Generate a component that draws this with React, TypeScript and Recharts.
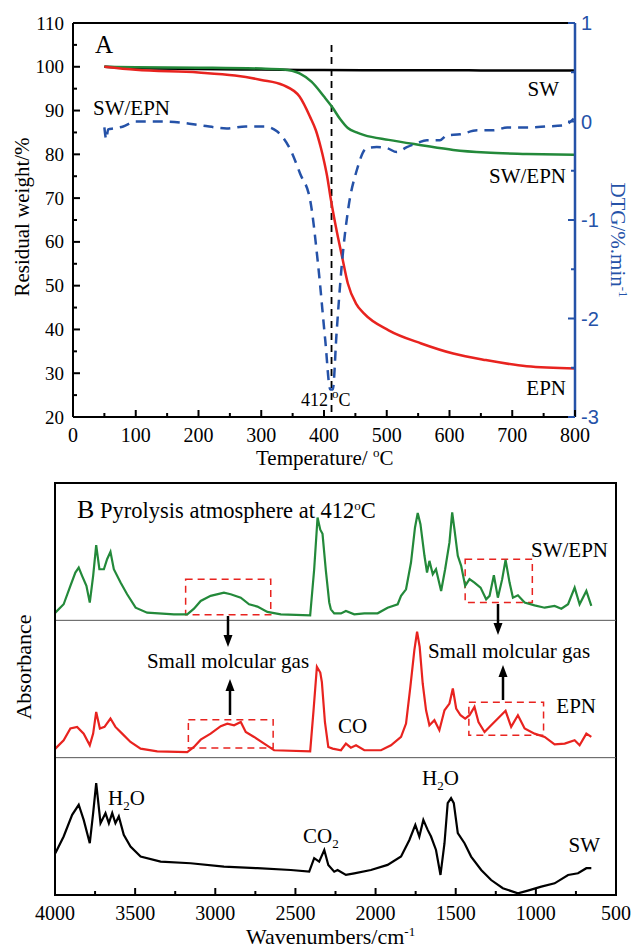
import React from 'react'
import { LineChart, Line, XAxis, YAxis, ReferenceLine, ReferenceArea } from 'recharts'

const SERIF = '"Liberation Serif", "Times New Roman", serif'
const SANS = '"Liberation Sans", Arial, sans-serif'
const BLUE = '#2552a8'
const GREEN = '#23893a'
const RED = '#e8231f'

// ---- Panel A: TG / DTG ----
const tempSW = [50, 100, 200, 300, 400, 500, 600, 700, 800]
const weightSW = [100, 99.7, 99.5, 99.35, 99.25, 99.2, 99.2, 99.15, 99.15]

const tempBlend = [50, 100, 200, 300, 335, 361, 380, 400, 413, 426, 438, 452, 464, 503, 555, 606, 658, 723, 800]
const weightBlend = [100, 99.9, 99.8, 99.6, 99.4, 98.5, 96.6, 93.2, 90.8, 88, 86, 85, 84.4, 83.3, 82.1, 81, 80.4, 80.1, 79.9]

const tempEPN = [50, 100, 200, 258, 300, 335, 361, 378, 387, 395, 400, 405, 410, 419, 429, 438, 451, 464, 503, 555, 606, 658, 723, 800]
const weightEPN = [100, 99.3, 98.7, 98, 97, 95.8, 93.2, 88.5, 85.5, 81.5, 78.5, 75, 70.5, 63.4, 56.5, 50.5, 45.9, 43.6, 39.8, 36.8, 34.5, 33, 31.6, 31.1]

const tempDTG = [50, 53, 56, 65, 80, 100, 140, 170, 205, 245, 275, 305, 325, 346, 362, 378, 391, 402, 410, 414, 420, 428, 439, 452, 468, 484, 500, 516, 532, 548, 564, 585, 596, 617, 644, 670, 692, 723, 755, 782, 798]
const dtgBlend = [-0.06, -0.18, -0.08, -0.07, -0.05, 0.0, 0.0, -0.01, -0.04, -0.07, -0.05, -0.05, -0.1, -0.28, -0.53, -0.8, -1.48, -2.22, -2.72, -2.72, -2.15, -1.48, -0.87, -0.5, -0.27, -0.26, -0.27, -0.31, -0.26, -0.22, -0.19, -0.19, -0.14, -0.13, -0.09, -0.09, -0.06, -0.06, -0.05, -0.04, 0.03]

const weightTicks = [20, 25, 30, 35, 40, 45, 50, 55, 60, 65, 70, 75, 80, 85, 90, 95, 100, 105, 110]
const dtgTicks = [-3, -2.5, -2, -1.5, -1, -0.5, 0, 0.5, 1]
const tempTicks = [0, 50, 100, 150, 200, 250, 300, 350, 400, 450, 500, 550, 600, 650, 700, 750, 800]

// ---- Panel B: FTIR of the gas at 412 °C (each trace normalised to its own band) ----
const wnBlend = [3998, 3946, 3904, 3873, 3852, 3831, 3804, 3783, 3762, 3743, 3723, 3695, 3675, 3654, 3633, 3591, 3550, 3497, 3425, 3258, 3175, 3133, 3091, 3029, 2946, 2904, 2841, 2789, 2737, 2675, 2591, 2408, 2383, 2362, 2345, 2331, 2310, 2289, 2279, 2258, 2216, 2185, 2133, 2070, 1987, 1925, 1862, 1841, 1810, 1779, 1754, 1737, 1720, 1695, 1679, 1664, 1643, 1623, 1591, 1566, 1539, 1522, 1508, 1487, 1466, 1441, 1414, 1383, 1345, 1310, 1289, 1262, 1237, 1210, 1189, 1164, 1143, 1112, 1070, 1008, 945, 883, 841, 799, 758, 727, 685, 654]
const absBlend = [0.056, 0.117, 0.251, 0.348, 0.384, 0.324, 0.251, 0.129, 0.324, 0.547, 0.372, 0.372, 0.445, 0.499, 0.372, 0.275, 0.19, 0.092, 0.056, 0.044, 0.044, 0.085, 0.141, 0.178, 0.202, 0.19, 0.165, 0.117, 0.1, 0.061, 0.044, 0.036, 0.372, 0.749, 0.66, 0.63, 0.36, 0.13, 0.08, 0.05, 0.05, 0.068, 0.044, 0.051, 0.051, 0.092, 0.117, 0.178, 0.226, 0.421, 0.676, 0.781, 0.7, 0.47, 0.348, 0.433, 0.336, 0.372, 0.214, 0.372, 0.567, 0.786, 0.664, 0.47, 0.397, 0.251, 0.3, 0.275, 0.238, 0.153, 0.178, 0.328, 0.165, 0.3, 0.44, 0.275, 0.165, 0.182, 0.129, 0.109, 0.092, 0.105, 0.085, 0.117, 0.238, 0.117, 0.214, 0.105]

const wnEPN = [3998, 3946, 3904, 3862, 3821, 3783, 3762, 3743, 3720, 3691, 3654, 3623, 3581, 3529, 3466, 3362, 3175, 3133, 3091, 3029, 2966, 2925, 2883, 2841, 2810, 2758, 2695, 2633, 2408, 2387, 2366, 2345, 2335, 2316, 2295, 2268, 2216, 2185, 2154, 2122, 2070, 1966, 1904, 1841, 1810, 1783, 1758, 1741, 1725, 1706, 1685, 1664, 1633, 1602, 1570, 1539, 1518, 1497, 1470, 1441, 1414, 1383, 1358, 1320, 1279, 1237, 1189, 1154, 1112, 1070, 1008, 945, 883, 820, 758, 727, 685, 654]
const absEPN = [0.066, 0.127, 0.212, 0.224, 0.175, 0.09, 0.175, 0.333, 0.212, 0.224, 0.285, 0.224, 0.175, 0.114, 0.066, 0.046, 0.041, 0.078, 0.131, 0.175, 0.229, 0.248, 0.236, 0.26, 0.187, 0.151, 0.102, 0.054, 0.046, 0.345, 0.662, 0.62, 0.55, 0.26, 0.078, 0.066, 0.054, 0.102, 0.073, 0.09, 0.054, 0.054, 0.09, 0.151, 0.248, 0.516, 0.783, 0.917, 0.808, 0.54, 0.345, 0.236, 0.273, 0.2, 0.345, 0.394, 0.504, 0.358, 0.309, 0.285, 0.309, 0.37, 0.26, 0.187, 0.236, 0.285, 0.341, 0.224, 0.309, 0.212, 0.175, 0.151, 0.097, 0.102, 0.127, 0.09, 0.175, 0.151]

const wnSW = [3998, 3946, 3893, 3852, 3821, 3783, 3762, 3743, 3716, 3685, 3664, 3643, 3623, 3602, 3571, 3529, 3466, 3341, 3154, 2946, 2737, 2529, 2414, 2383, 2352, 2320, 2295, 2258, 2237, 2185, 2133, 2029, 1925, 1841, 1789, 1752, 1727, 1702, 1675, 1654, 1623, 1595, 1570, 1550, 1529, 1512, 1487, 1445, 1404, 1341, 1279, 1206, 1112, 1050, 966, 883, 799, 737, 685, 654]
const absSW = [0.304, 0.426, 0.584, 0.657, 0.547, 0.377, 0.596, 0.815, 0.523, 0.596, 0.523, 0.596, 0.523, 0.572, 0.438, 0.353, 0.28, 0.243, 0.231, 0.207, 0.195, 0.182, 0.17, 0.268, 0.243, 0.328, 0.219, 0.17, 0.182, 0.146, 0.158, 0.182, 0.219, 0.28, 0.401, 0.511, 0.426, 0.547, 0.474, 0.426, 0.328, 0.146, 0.377, 0.669, 0.706, 0.669, 0.45, 0.377, 0.28, 0.182, 0.109, 0.049, 0.012, 0.032, 0.061, 0.085, 0.146, 0.158, 0.195, 0.195]

const wnTicks = [500, 750, 1000, 1250, 1500, 1750, 2000, 2250, 2500, 2750, 3000, 3250, 3500, 3750, 4000]

const zip = (xs: number[], ys: number[]) => xs.map((x, i) => ({ x, y: ys[i] }))

const txt = { fontFamily: SERIF, fontSize: 21, fill: '#000' }

// ticks are drawn inward; tickSize/tickMargin are 0 so x/y sit on the axis line
const bottomTick = (step: number) => (p: any) => {
  const v = p.payload.value
  const major = v % step === 0
  return (
    <g>
      <line x1={p.x} x2={p.x} y1={p.y} y2={p.y - (major ? 7 : 4)} stroke="#000" strokeWidth={2} />
      {major && (
        <text x={p.x} y={p.y + 25} textAnchor="middle" style={{ ...txt, fontSize: 20 }}>
          {v}
        </text>
      )}
    </g>
  )
}

const leftTick = (p: any) => {
  const v = p.payload.value
  const major = v % 10 === 0
  return (
    <g>
      <line x1={p.x} x2={p.x + (major ? 7 : 4)} y1={p.y} y2={p.y} stroke="#000" strokeWidth={2} />
      {major && (
        <text x={p.x - 9} y={p.y + 6.5} textAnchor="end" style={{ ...txt, fontSize: 19 }}>
          {v}
        </text>
      )}
    </g>
  )
}

const rightTick = (p: any) => {
  const v = p.payload.value
  const major = Number.isInteger(v)
  return (
    <g>
      <line x1={p.x} x2={p.x - (major ? 7 : 4)} y1={p.y} y2={p.y} stroke={BLUE} strokeWidth={2} />
      {major && (
        <text x={p.x + 6} y={p.y + 7} textAnchor="start" style={{ fontFamily: SANS, fontSize: 20, fill: BLUE }}>
          {v}
        </text>
      )}
    </g>
  )
}

const Sup = ({ children }: { children: string }) => (
  <tspan dy={-8} fontSize={13}>
    {children}
  </tspan>
)

function Arrow({ x, y1, y2 }: { x: number; y1: number; y2: number }) {
  const dir = y2 > y1 ? 1 : -1
  const base = y2 - dir * 12
  return (
    <g>
      <line x1={x} x2={x} y1={y1} y2={base} stroke="#000" strokeWidth={2.5} />
      <polygon points={`${x - 4.5},${base} ${x + 4.5},${base} ${x},${y2}`} fill="#000" />
    </g>
  )
}

export default function App() {
  const frame = { stroke: '#000', strokeWidth: 2 }
  return (
    <div style={{ position: 'absolute', left: 0, top: 0, width: 634, height: 950, background: '#fff' }}>
      <div style={{ position: 'absolute', left: 0, top: 0 }}>
        <LineChart width={634} height={480} margin={{ top: 22, right: 58, bottom: 62, left: 72 }}>
          <XAxis dataKey="x" type="number" domain={[0, 800]} ticks={tempTicks} interval={0}
            tickSize={0} tickMargin={0} tickLine={false} axisLine={frame} height={1} tick={bottomTick(100)} />
          <XAxis xAxisId="top" dataKey="x" type="number" orientation="top" domain={[0, 800]}
            height={1} tick={false} tickLine={false} axisLine={frame} />
          <YAxis yAxisId="w" type="number" domain={[20, 110]} ticks={weightTicks} interval={0} allowDataOverflow
            width={1} tickSize={0} tickMargin={0} tickLine={false} axisLine={frame} tick={leftTick} />
          <YAxis yAxisId="d" orientation="right" type="number" domain={[-3, 1]} ticks={dtgTicks} interval={0} allowDataOverflow
            width={1} tickSize={0} tickMargin={0} tickLine={false} axisLine={{ stroke: BLUE, strokeWidth: 2.5 }} tick={rightTick} />
          <ReferenceLine yAxisId="w" segment={[{ x: 412, y: 105 }, { x: 412, y: 21 }]}
            stroke="#000" strokeWidth={1.8} strokeDasharray="7 5" />
          <Line yAxisId="w" data={zip(tempSW, weightSW)} dataKey="y" type="monotone" stroke="#000" strokeWidth={2.5} dot={false} isAnimationActive={false} />
          <Line yAxisId="w" data={zip(tempBlend, weightBlend)} dataKey="y" type="monotone" stroke={GREEN} strokeWidth={2.5} dot={false} isAnimationActive={false} />
          <Line yAxisId="w" data={zip(tempEPN, weightEPN)} dataKey="y" type="monotone" stroke={RED} strokeWidth={2.5} dot={false} isAnimationActive={false} />
          <Line yAxisId="d" data={zip(tempDTG, dtgBlend)} dataKey="y" type="monotone" stroke={BLUE} strokeWidth={2.5} strokeDasharray="10 7" dot={false} isAnimationActive={false} />
        </LineChart>
      </div>

      <div style={{ position: 'absolute', left: 0, top: 470 }}>
        <LineChart width={634} height={480} margin={{ top: 13, right: 18, bottom: 54, left: 55 }}>
          <XAxis dataKey="x" type="number" domain={[500, 4000]} reversed ticks={wnTicks} interval={0}
            tickSize={0} tickMargin={0} tickLine={false} axisLine={frame} height={1} tick={bottomTick(500)} />
          <YAxis yAxisId="k" type="number" domain={[0, 3]} allowDataOverflow hide />
          <YAxis yAxisId="r" type="number" domain={[-1, 2]} allowDataOverflow hide />
          <YAxis yAxisId="g" type="number" domain={[-2, 1]} allowDataOverflow hide />
          <ReferenceArea yAxisId="k" x1={4000} x2={500} y1={0} y2={3} ifOverflow="visible" fill="none" stroke="#000" strokeWidth={2} />
          <ReferenceLine yAxisId="k" y={1} stroke="#555" strokeWidth={1} />
          <ReferenceLine yAxisId="k" y={2} stroke="#555" strokeWidth={1} />
          <ReferenceArea yAxisId="g" x1={3185} x2={2654} y1={0.04} y2={0.3} fill="none" stroke={RED} strokeWidth={1.5} strokeDasharray="7 5" />
          <ReferenceArea yAxisId="g" x1={1441} x2={1022} y1={0.129} y2={0.445} fill="none" stroke={RED} strokeWidth={1.5} strokeDasharray="7 5" />
          <ReferenceArea yAxisId="r" x1={3168} x2={2639} y1={0.07} y2={0.277} fill="none" stroke={RED} strokeWidth={1.5} strokeDasharray="7 5" />
          <ReferenceArea yAxisId="r" x1={1418} x2={952} y1={0.163} y2={0.404} fill="none" stroke={RED} strokeWidth={1.5} strokeDasharray="7 5" />
          <Line yAxisId="g" data={zip(wnBlend, absBlend)} dataKey="y" type="linear" stroke={GREEN} strokeWidth={2.2} dot={false} isAnimationActive={false} />
          <Line yAxisId="r" data={zip(wnEPN, absEPN)} dataKey="y" type="linear" stroke={RED} strokeWidth={2.2} dot={false} isAnimationActive={false} />
          <Line yAxisId="k" data={zip(wnSW, absSW)} dataKey="y" type="linear" stroke="#000" strokeWidth={2.2} dot={false} isAnimationActive={false} />
        </LineChart>
      </div>

      <svg width={634} height={950} style={{ position: 'absolute', left: 0, top: 0, pointerEvents: 'none' }}>
        {/* left edge of the panel B frame */}
        <line x1={55} x2={55} y1={483} y2={896} stroke="#000" strokeWidth={2} />

        {/* panel A labels */}
        <text x={95} y={53} style={{ ...txt, fontSize: 25 }}>A</text>
        <text x={93} y={115} style={txt}>SW/EPN</text>
        <text x={559} y={96} textAnchor="end" style={txt}>SW</text>
        <text x={566} y={183} textAnchor="end" style={txt}>SW/EPN</text>
        <text x={566} y={395} textAnchor="end" style={txt}>EPN</text>
        <text x={328} y={406} textAnchor="end" style={{ ...txt, fontSize: 18 }}>412</text>
        <text x={332} y={406} style={{ ...txt, fontSize: 18 }}><Sup>o</Sup><tspan dy={8}>C</tspan></text>
        <text x={256} y={465} style={txt}>Temperature/ <Sup>o</Sup><tspan dy={8}>C</tspan></text>
        <text transform="translate(29,217) rotate(-90)" textAnchor="middle" style={{ ...txt, fontSize: 21 }}>Residual weight/%</text>
        <text transform="translate(611,240) rotate(90)" textAnchor="middle" style={{ ...txt, fontSize: 21, fill: BLUE }}>
          DTG/%.min<Sup>-1</Sup>
        </text>

        {/* panel B labels */}
        <text x={77} y={518} style={{ ...txt, fontSize: 26 }}>B</text>
        <text x={100} y={518} style={{ ...txt, fontSize: 22.5 }}>Pyrolysis atmosphere at 412<Sup>o</Sup><tspan dy={8}>C</tspan></text>
        <text x={608} y={557} textAnchor="end" style={txt}>SW/EPN</text>
        <text x={596} y={713} textAnchor="end" style={txt}>EPN</text>
        <text x={338} y={733} style={txt}>CO</text>
        <text x={108} y={805} style={txt}>H<tspan dy={5} fontSize={13}>2</tspan><tspan dy={-5}>O</tspan></text>
        <text x={303} y={843} style={txt}>CO<tspan dy={5} fontSize={13}>2</tspan></text>
        <text x={422} y={785} style={txt}>H<tspan dy={5} fontSize={13}>2</tspan><tspan dy={-5}>O</tspan></text>
        <text x={600} y={852} textAnchor="end" style={txt}>SW</text>
        <text x={228} y={668} textAnchor="middle" style={txt}>Small molcular gas</text>
        <text x={509} y={658} textAnchor="middle" style={txt}>Small molcular gas</text>
        <Arrow x={228} y1={616} y2={647} />
        <Arrow x={230} y1={715} y2={679} />
        <Arrow x={498} y1={604} y2={635} />
        <Arrow x={503} y1={700} y2={665} />
        <text transform="translate(31,667) rotate(-90)" textAnchor="middle" style={{ ...txt, fontSize: 22 }}>Absorbance</text>
        <text x={246} y={944} style={{ ...txt, fontSize: 22 }}>Wavenumbers/cm<Sup>-1</Sup></text>
      </svg>
    </div>
  )
}
